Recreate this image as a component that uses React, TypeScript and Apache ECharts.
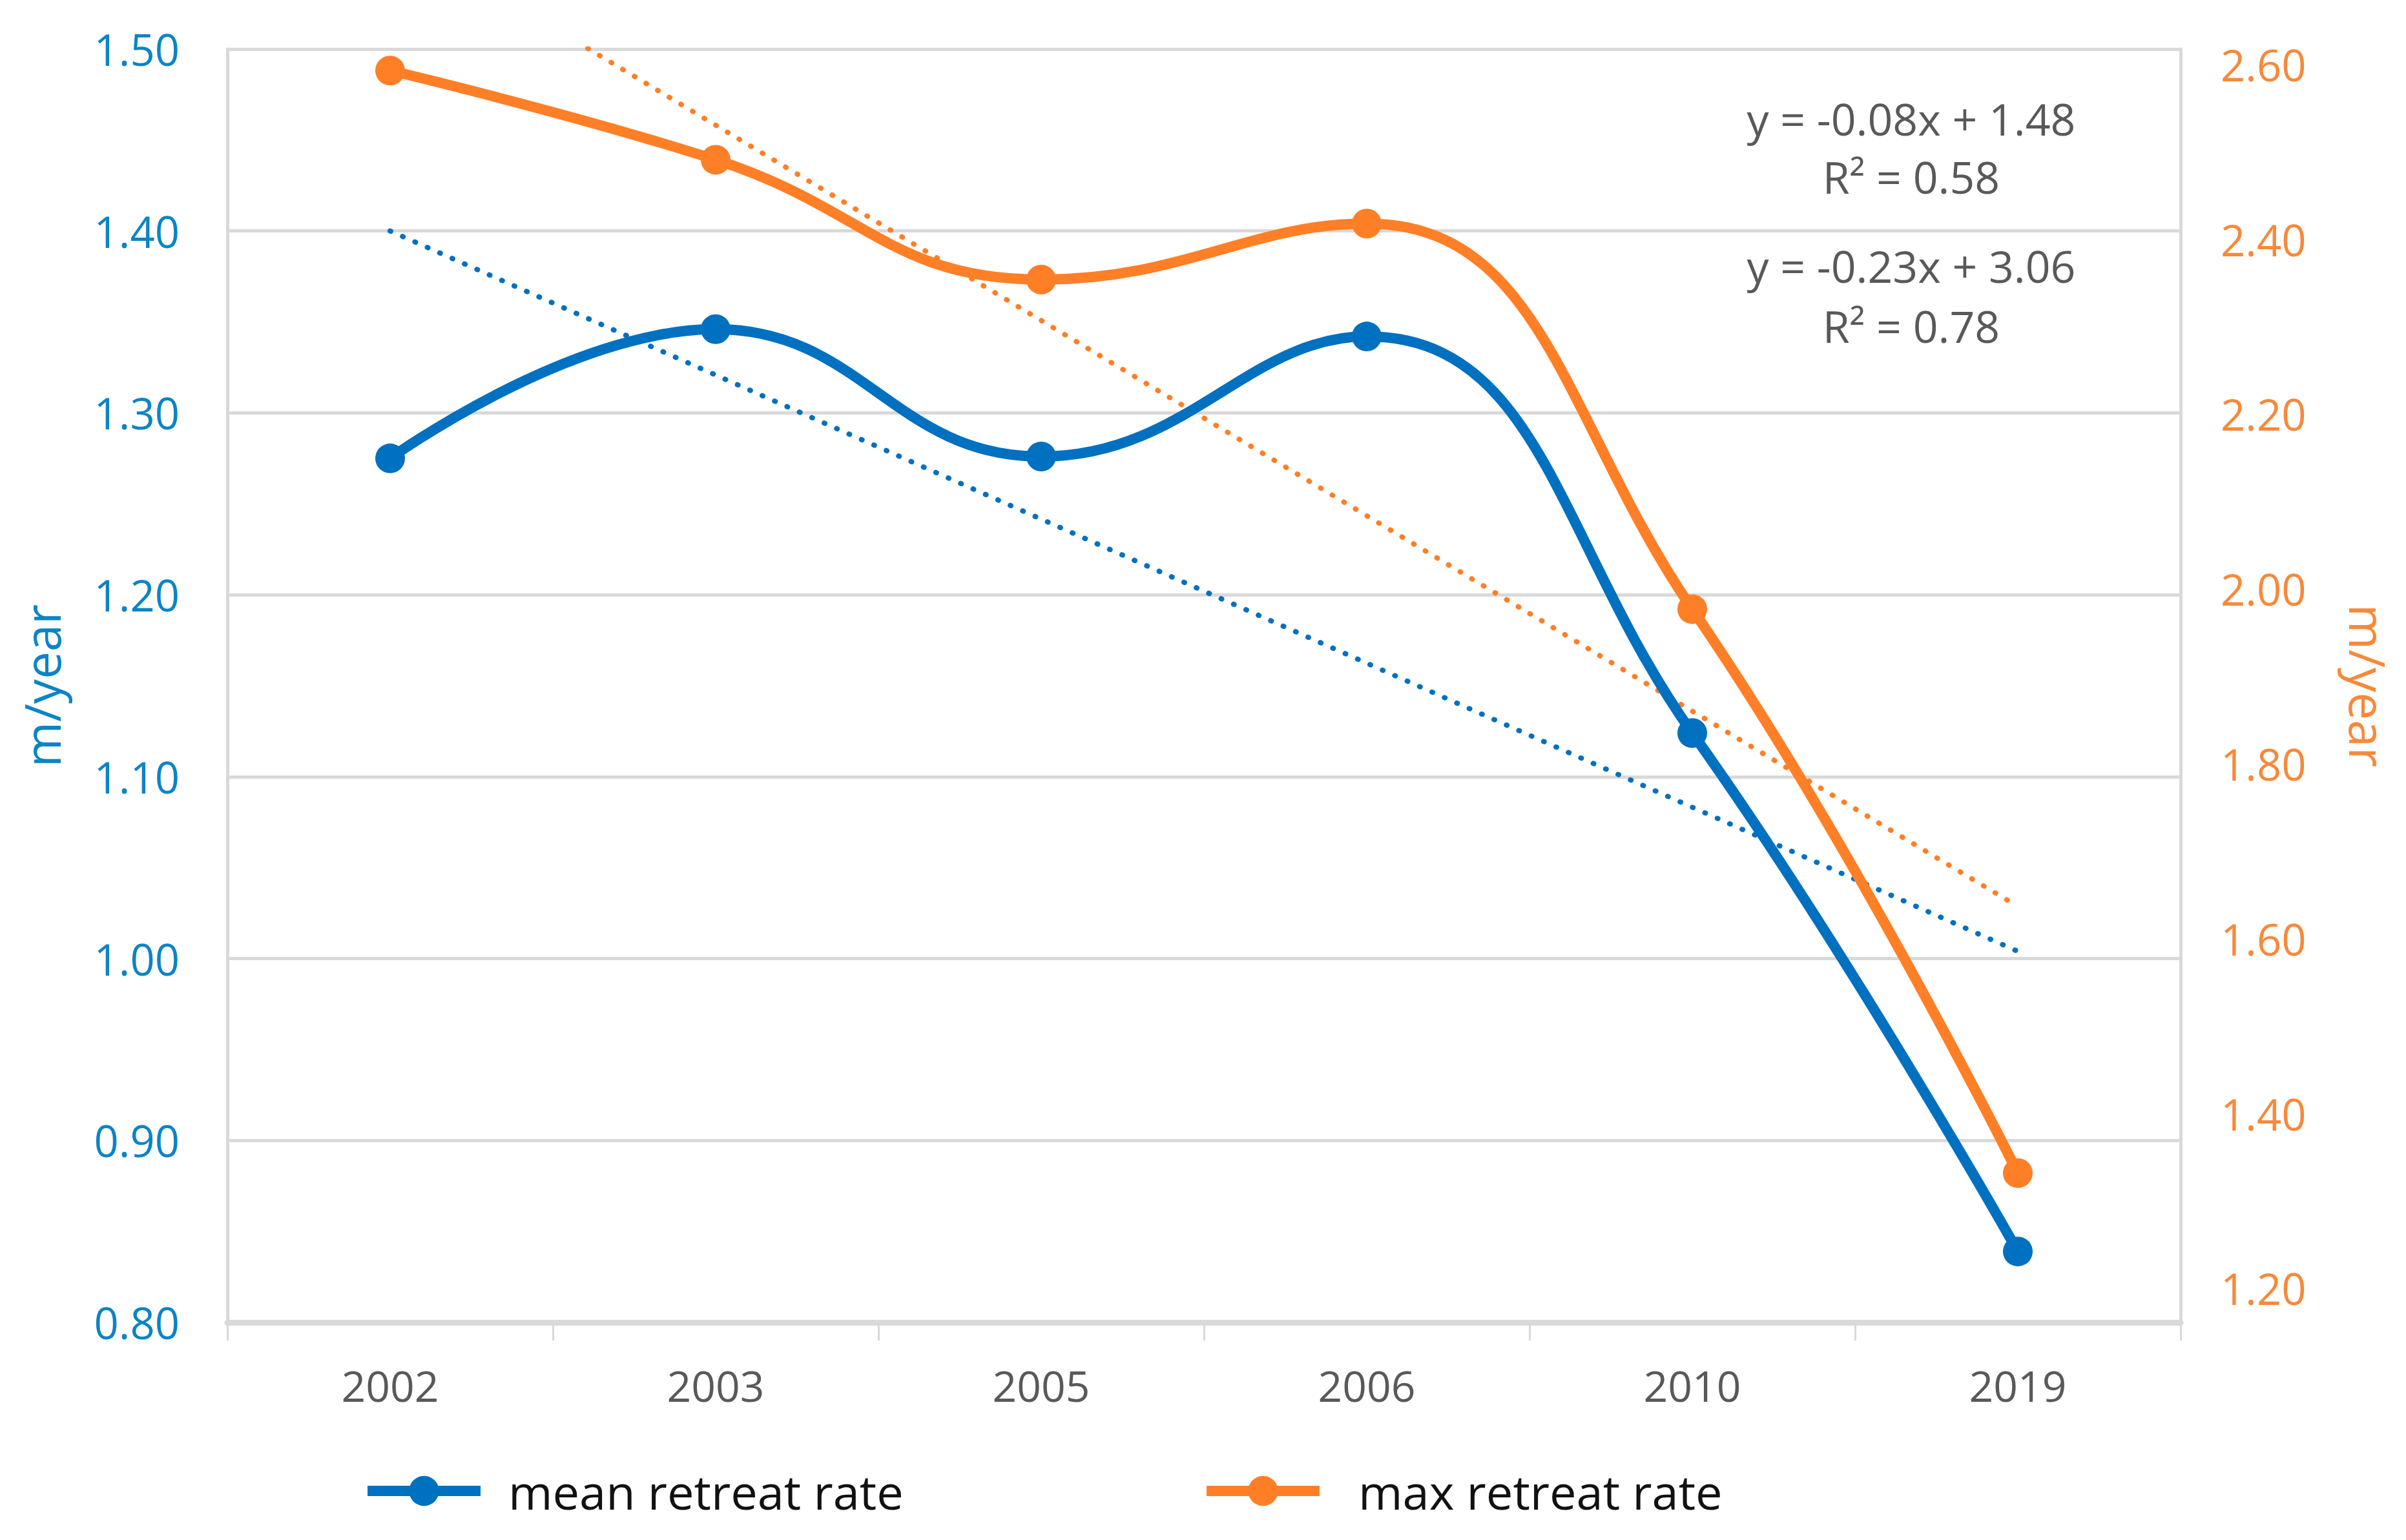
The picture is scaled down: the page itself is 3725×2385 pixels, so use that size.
import React, { useEffect, useRef } from "react";
import * as echarts from "echarts";

const years = ["2002", "2003", "2005", "2006", "2010", "2019"];
const meanRate = [1.275, 1.346, 1.276, 1.342, 1.124, 0.839];
const maxRate = [2.593, 2.491, 2.354, 2.418, 1.977, 1.332];
const meanTrend = [1.4, "-", "-", "-", "-", 1.004];
const maxTrend = [2.754, "-", "-", "-", "-", 1.637];
const leftTicks = [0.8, 0.9, 1.0, 1.1, 1.2, 1.3, 1.4, 1.5];
const rightTicks = [1.2, 1.4, 1.6, 1.8, 2.0, 2.2, 2.4, 2.6];
const eqMean = ["y = -0.08x + 1.48", "R\u00B2 = 0.58"];
const eqMax = ["y = -0.23x + 3.06", "R\u00B2 = 0.78"];
const unitLabel = "m/year";
const seriesNames = ["mean retreat rate", "max retreat rate"];

const FONT = "'Open Sans', 'Liberation Sans', sans-serif";
const BLUE = "#0070C0";
const BLUE_TXT = "#0B84C6";
const ORANGE = "#FF7F27";
const ORANGE_TXT = "#F7893A";
const GRID = "#D9D9D9";
const GRAY_TXT = "#595959";

export default function App() {
  const ref = useRef<HTMLDivElement>(null);
  useEffect(() => {
    document.body.style.margin = "0";
    const chart = echarts.init(ref.current!, null, { renderer: "svg" });
    const legendCommon = {
      top: 2272,
      padding: 0,
      itemWidth: 175,
      itemHeight: 58,
      lineStyle: { width: 16 },
    };
    const option: any = {
      animation: false,
      backgroundColor: "#ffffff",
      grid: { left: 352, right: 349, top: 76, bottom: 337, containLabel: false },
      legend: [
        {
          ...legendCommon,
          data: [seriesNames[0]],
          left: 561,
          textStyle: { color: "#111111", fontSize: 74, fontFamily: FONT, padding: [0, 0, 0, 38] },
        },
        {
          ...legendCommon,
          data: [seriesNames[1]],
          left: 1860,
          textStyle: { color: "#111111", fontSize: 74, fontFamily: FONT, padding: [0, 0, 0, 55] },
        },
      ],
      xAxis: {
        type: "category",
        data: years,
        boundaryGap: true,
        axisLine: { show: true, lineStyle: { color: GRID, width: 9 } },
        axisTick: { show: true, length: 28, lineStyle: { color: GRID, width: 3 } },
        axisLabel: { color: GRAY_TXT, fontSize: 66, fontFamily: FONT, margin: 64 },
        splitLine: { show: false },
      },
      yAxis: [
        {
          type: "value",
          min: leftTicks[0],
          max: leftTicks[leftTicks.length - 1],
          interval: 0.1,
          position: "left",
          axisLine: { show: true, lineStyle: { color: GRID, width: 5 } },
          axisTick: { show: false },
          axisLabel: {
            color: BLUE_TXT,
            fontSize: 67,
            fontFamily: FONT,
            margin: 74,
            formatter: (v: number) => v.toFixed(2),
          },
          splitLine: { show: true, lineStyle: { color: GRID, width: 5 } },
          name: unitLabel,
          nameLocation: "middle",
          nameGap: 250,
          nameTextStyle: { color: BLUE_TXT, fontSize: 76, fontFamily: FONT },
        },
        {
          type: "value",
          min: 1.1612,
          max: 2.6176,
          position: "right",
          axisLine: { show: true, lineStyle: { color: GRID, width: 5 } },
          axisTick: { show: false },
          axisLabel: {
            customValues: rightTicks,
            color: ORANGE_TXT,
            fontSize: 67,
            fontFamily: FONT,
            margin: 62,
            formatter: (v: number) => v.toFixed(2),
          },
          splitLine: { show: false },
          name: unitLabel,
          nameLocation: "middle",
          nameRotate: -90,
          nameGap: 252,
          nameTextStyle: { color: ORANGE_TXT, fontSize: 76, fontFamily: FONT },
        },
      ],
      series: [
        {
          name: seriesNames[0],
          type: "line",
          yAxisIndex: 0,
          data: meanRate,
          smooth: 0.45,
          symbol: "circle",
          symbolSize: 46,
          lineStyle: { color: BLUE, width: 16 },
          itemStyle: { color: BLUE },
          z: 4,
        },
        {
          name: seriesNames[1],
          type: "line",
          yAxisIndex: 1,
          data: maxRate,
          smooth: 0.45,
          symbol: "circle",
          symbolSize: 46,
          lineStyle: { color: ORANGE, width: 16 },
          itemStyle: { color: ORANGE },
          z: 5,
        },
        {
          name: "mean trend",
          type: "line",
          yAxisIndex: 0,
          data: meanTrend,
          connectNulls: true,
          symbol: "none",
          lineStyle: { color: BLUE, width: 8, type: [1, 20], cap: "round" },
          z: 2,
        },
        {
          name: "max trend",
          type: "line",
          yAxisIndex: 1,
          data: maxTrend,
          connectNulls: true,
          symbol: "none",
          clip: true,
          lineStyle: { color: ORANGE, width: 8, type: [1, 20], cap: "round" },
          z: 2,
        },
      ],
      graphic: [
        { type: "text", x: 2959, y: 183, style: { text: eqMean[0], textAlign: "center", textVerticalAlign: "middle", fontSize: 68, fontFamily: FONT, fill: GRAY_TXT } },
        { type: "text", x: 2959, y: 273, style: { text: eqMean[1], textAlign: "center", textVerticalAlign: "middle", fontSize: 68, fontFamily: FONT, fill: GRAY_TXT } },
        { type: "text", x: 2959, y: 411, style: { text: eqMax[0], textAlign: "center", textVerticalAlign: "middle", fontSize: 68, fontFamily: FONT, fill: GRAY_TXT } },
        { type: "text", x: 2959, y: 504, style: { text: eqMax[1], textAlign: "center", textVerticalAlign: "middle", fontSize: 68, fontFamily: FONT, fill: GRAY_TXT } },
      ],
    };
    chart.setOption(option);
    return () => chart.dispose();
  }, []);
  return <div ref={ref} style={{ width: 3725, height: 2385 }} />;
}
